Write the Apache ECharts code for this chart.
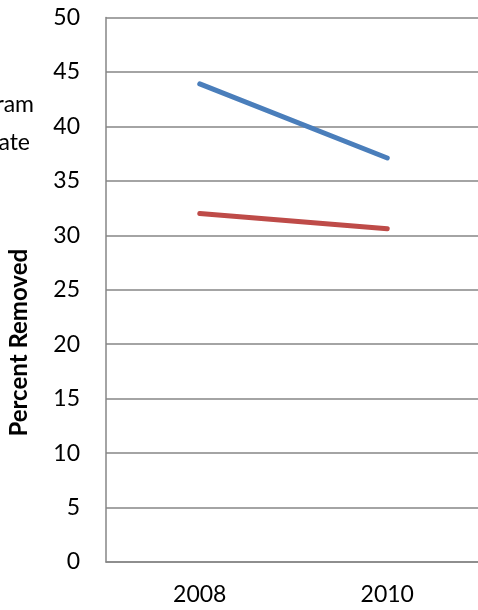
<!DOCTYPE html>
<html><head><meta charset="utf-8">
<script src="https://cdn.jsdelivr.net/npm/echarts@6/dist/echarts.min.js"></script>
<style>html,body{margin:0;padding:0;background:#fff}#c{width:478px;height:610px}</style>
</head><body><div id="c"></div>
<script>
var categories = ['2008', '2010'];
var seriesNames = ['Program', 'State'];
var programValues = [43.9, 37.1];
var stateValues = [32.0, 30.6];
var yTicks = [0, 5, 10, 15, 20, 25, 30, 35, 40, 45, 50];

var FONT = 'Lato';
var FS = 23;
function textW(t, size, weight) {
  var c = document.createElement('canvas').getContext('2d');
  c.font = (weight || 'normal') + ' ' + size + 'px ' + FONT;
  return c.measureText(t).width;
}
var iconW = 25;
function legendLeft(name, endX) { return endX - textW(name, FS) - iconW - 5; }

var chart = echarts.init(document.getElementById('c'));
chart.setOption({
  animation: false,
  textStyle: { fontFamily: FONT },
  grid: { left: 106, top: 17.5, bottom: 48, right: -3, containLabel: false, outerBoundsMode: 'none' },
  legend: [
    { data: [seriesNames[0]], left: legendLeft(seriesNames[0], 33), top: 93, padding: 0, itemWidth: iconW, itemHeight: 5,
      textStyle: { fontSize: FS, color: '#000', fontFamily: FONT } },
    { data: [seriesNames[1]], left: legendLeft(seriesNames[1], 29), top: 131, padding: 0, itemWidth: iconW, itemHeight: 5,
      textStyle: { fontSize: FS, color: '#000', fontFamily: FONT } }
  ],
  xAxis: {
    type: 'category', data: categories, boundaryGap: true,
    axisLine: { lineStyle: { color: '#868686', width: 1.5 } },
    axisTick: { show: false },
    axisLabel: { color: '#000', fontSize: FS, margin: 21, fontFamily: FONT }
  },
  yAxis: {
    type: 'value', min: yTicks[0], max: yTicks[yTicks.length - 1], interval: 5,
    name: 'Percent Removed', nameLocation: 'middle', nameGap: 75, nameRotate: 90,
    nameTextStyle: { fontSize: 24, fontWeight: 'bold', color: '#000', fontFamily: FONT, padding: [0, 106, 0, 0] },
    axisLine: { show: true, lineStyle: { color: '#868686', width: 1.5 } },
    axisTick: { show: false },
    splitLine: { lineStyle: { color: '#868686', width: 1.5 } },
    axisLabel: { color: '#000', fontSize: FS, margin: 26, fontFamily: FONT }
  },
  series: [
    { name: seriesNames[0], type: 'line', data: programValues, showSymbol: false, symbol: 'none',
      lineStyle: { color: '#4A7EBB', width: 5, cap: 'round' }, itemStyle: { color: '#4A7EBB' } },
    { name: seriesNames[1], type: 'line', data: stateValues, showSymbol: false, symbol: 'none',
      lineStyle: { color: '#BE4B48', width: 5, cap: 'round' }, itemStyle: { color: '#BE4B48' } }
  ]
});
</script></body></html>
